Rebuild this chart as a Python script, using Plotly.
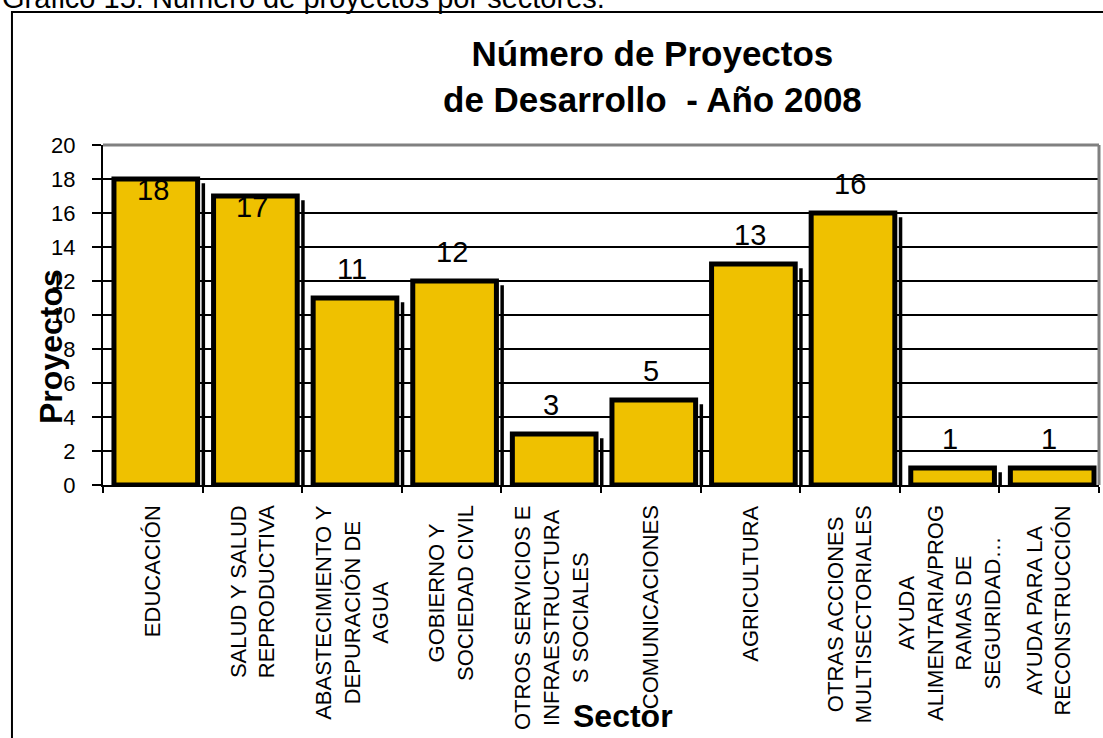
import plotly.graph_objects as go

# ---- data ----
categories = [
    "EDUCACIÓN",
    "SALUD Y SALUD<br>REPRODUCTIVA",
    "ABASTECIMIENTO Y<br>DEPURACIÓN DE<br>AGUA",
    "GOBIERNO Y<br>SOCIEDAD CIVIL",
    "OTROS SERVICIOS E<br>INFRAESTRUCTURA<br>S SOCIALES",
    "COMUNICACIONES",
    "AGRICULTURA",
    "OTRAS ACCIONES<br>MULTISECTORIALES",
    "AYUDA<br>ALIMENTARIA/PROG<br>RAMAS DE<br>SEGURIDAD…",
    "AYUDA PARA LA<br>RECONSTRUCCIÓN",
]
proyectos = [18, 17, 11, 12, 3, 5, 13, 16, 1, 1]
y_ticks = [0, 2, 4, 6, 8, 10, 12, 14, 16, 18, 20]

title_text = "Número de Proyectos<br>de Desarrollo  - Año 2008"
caption_text = "Gráfico 15: Número de proyectos por sectores."
y_title = "Proyectos"
x_title = "Sector"

# ---- style ----
FONT = "Liberation Sans, Arial, sans-serif"
BAR_FILL = "#EFC100"
# label placement: first two labels sit inside the bar top, the rest above
label_inside = [True, True, False, False, False, False, False, False, False, False]
shadow_drop = 0.25

fig = go.Figure()

# shadow strip to the right of each bar
fig.add_trace(go.Bar(
    x=categories, y=[v - shadow_drop for v in proyectos],
    offset=0.49, width=0.035,
    marker=dict(color="black", line=dict(width=0)),
    hoverinfo="skip", showlegend=False,
))
# main bars
fig.add_trace(go.Bar(
    x=categories, y=proyectos,
    offset=-0.39, width=0.84,
    marker=dict(color=BAR_FILL, line=dict(color="black", width=5)),
    showlegend=False,
))

annotations = []
# value labels
for c, v, inside in zip(categories, proyectos, label_inside):
    annotations.append(dict(
        x=c, y=v, xref="x", yref="y", text=str(v), showarrow=False,
        font=dict(family=FONT, size=29, color="black"),
        yanchor="middle" if inside else "bottom",
        yshift=-11 if inside else 11,
    ))
# category labels (rotated, centred lines)
for c in categories:
    annotations.append(dict(
        x=c, y=-0.054, xref="x", yref="paper", text=c, showarrow=False,
        textangle=-90, align="center", xanchor="center", yanchor="top",
        font=dict(family=FONT, size=22, color="black"),
    ))
# title
annotations.append(dict(
    x=0.552, y=1.2015, xref="paper", yref="paper", text="<b>" + title_text + "</b>",
    showarrow=False, align="center", xanchor="center", yanchor="middle",
    font=dict(family=FONT, size=35, color="black"),
))
# axis titles
annotations.append(dict(
    x=-0.0522, y=0.406, xref="paper", yref="paper", text="<b>" + y_title + "</b>",
    showarrow=False, textangle=-90, xanchor="center", yanchor="middle",
    font=dict(family=FONT, size=32, color="black"),
))
annotations.append(dict(
    x=0.5216, y=-0.679, xref="paper", yref="paper", text="<b>" + x_title + "</b>",
    showarrow=False, xanchor="center", yanchor="middle",
    font=dict(family=FONT, size=32, color="black"),
))
# caption (cut off at the top of the page)
annotations.append(dict(
    x=-0.1034, y=1.38, xref="paper", yref="paper", text=caption_text,
    showarrow=False, xanchor="left", yanchor="bottom",
    font=dict(family=FONT, size=29, color="black"),
))

shapes = [
    # outer frame
    dict(type="rect", xref="paper", yref="paper", x0=-0.0914, x1=1.2, y0=-1.0, y1=1.391,
         line=dict(color="black", width=2), layer="above"),
    # plot area top and right border
    dict(type="line", xref="paper", yref="paper", x0=0, x1=1, y0=1, y1=1,
         line=dict(color="#808080", width=3), layer="above"),
    dict(type="line", xref="paper", yref="paper", x0=1, x1=1, y0=0, y1=1,
         line=dict(color="#808080", width=3), layer="above"),
]

fig.update_layout(
    width=1103, height=738,
    margin=dict(l=103, r=4, t=145, b=253, pad=0),
    paper_bgcolor="white", plot_bgcolor="white",
    barmode="overlay",
    font=dict(family=FONT, color="black"),
    annotations=annotations, shapes=shapes,
    xaxis=dict(
        type="category", range=[-0.5, len(categories) - 0.5],
        showticklabels=False, showgrid=False, zeroline=False,
        showline=True, linecolor="black", linewidth=2,
        ticks="outside", tickson="boundaries", ticklen=6, tickcolor="black", tickwidth=1.5,
    ),
    yaxis=dict(
        range=[0, 20], tickvals=y_ticks,
        showgrid=True, gridcolor="black", gridwidth=1.5, zeroline=False,
        showline=True, linecolor="black", linewidth=2,
        ticks="outside", ticklen=9, tickcolor="black", tickwidth=1.5,
        ticklabelstandoff=12,
        tickfont=dict(family=FONT, size=22, color="black"),
    ),
)

fig.write_html("out.html", config={"displayModeBar": False},
               post_script="document.body.style.margin='0';")
